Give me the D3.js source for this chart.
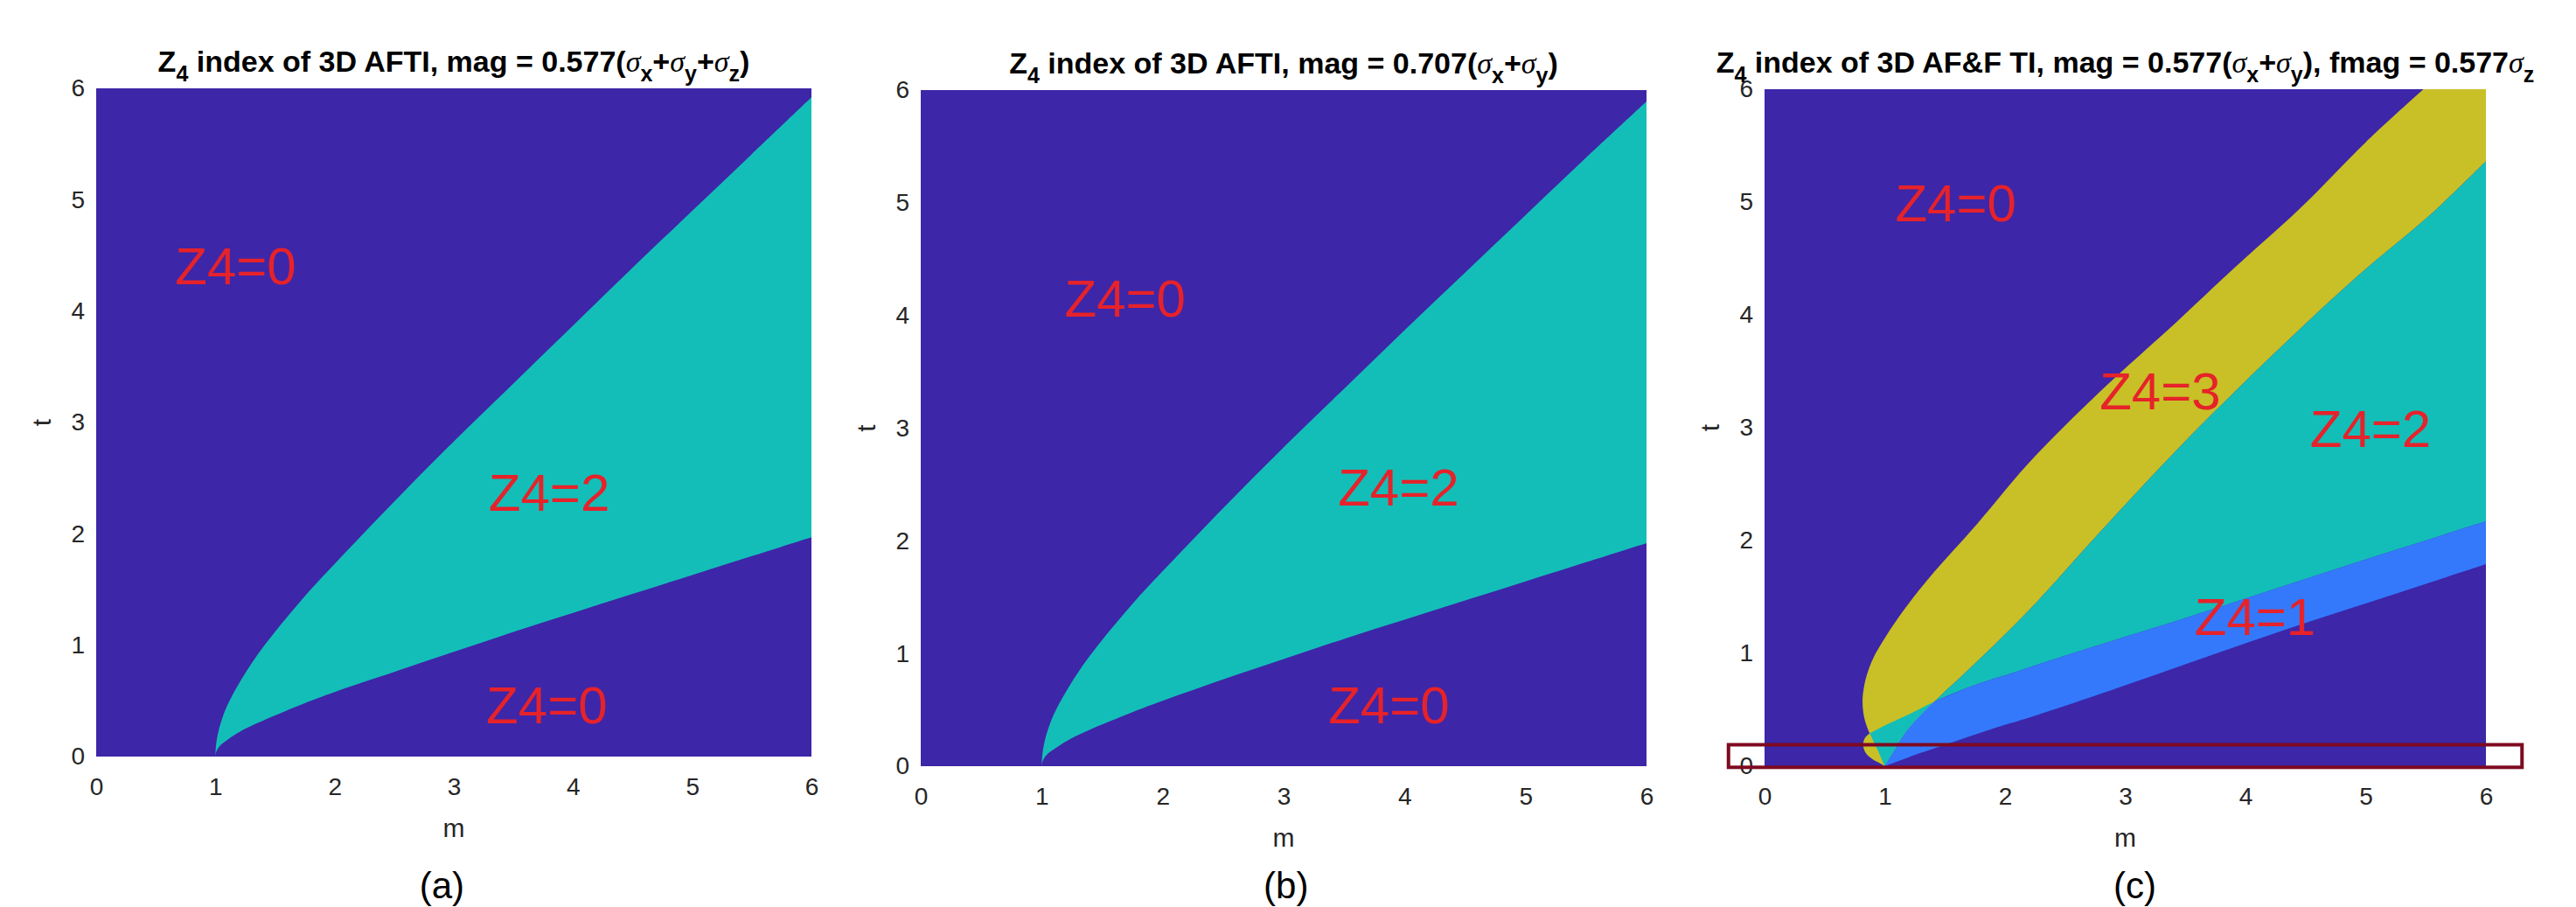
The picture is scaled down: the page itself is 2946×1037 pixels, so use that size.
<!DOCTYPE html>
<html>
<head>
<meta charset="utf-8">
<script src="https://cdn.jsdelivr.net/npm/d3@7"></script>
<style>
  html, body { margin: 0; padding: 0; background: #fff; }
  svg { display: block; font-family: "Liberation Sans", Arial, Helvetica, sans-serif; }
</style>
</head>
<body>
<svg id="chart"></svg>
<script>
const width = 2946;
const height = 1037;

// axes (same for all three panels)
const mDomain = [0, 6];
const tDomain = [0, 6];
const mTicks = [0, 1, 2, 3, 4, 5, 6];
const tTicks = [0, 1, 2, 3, 4, 5, 6];

// phase boundaries, as [m, t]
// (a) mag along x+y+z
const aUpper = [[1, 0], [1.005, 0.1], [1.02, 0.2], [1.05, 0.32], [1.1, 0.46], [1.2, 0.66], [1.35, 0.91], [1.5, 1.12], [1.75, 1.44], [2, 1.73], [2.5, 2.29], [3, 2.83], [3.5, 3.35], [4, 3.87], [4.5, 4.39], [5, 4.9], [5.5, 5.41], [6, 5.92]];
const aLower = [[1, 0], [1.005, 0.035], [1.02, 0.07], [1.05, 0.11], [1.1, 0.15], [1.2, 0.22], [1.35, 0.3], [1.5, 0.37], [1.75, 0.48], [2, 0.58], [2.5, 0.76], [3, 0.94], [3.5, 1.12], [4, 1.29], [4.5, 1.46], [5, 1.63], [5.5, 1.8], [6, 1.97]];

// (b) mag along x+y
const bUpper = [[1, 0], [1.005, 0.1], [1.02, 0.2], [1.05, 0.32], [1.1, 0.46], [1.2, 0.66], [1.35, 0.91], [1.5, 1.12], [1.75, 1.44], [2, 1.73], [2.5, 2.29], [3, 2.83], [3.5, 3.35], [4, 3.87], [4.5, 4.38], [5, 4.89], [5.5, 5.4], [6, 5.9]];
const bLower = [[1, 0], [1.005, 0.035], [1.02, 0.07], [1.05, 0.11], [1.1, 0.15], [1.2, 0.22], [1.35, 0.3], [1.5, 0.37], [1.75, 0.48], [2, 0.58], [2.5, 0.77], [3, 0.95], [3.5, 1.13], [4, 1.3], [4.5, 1.47], [5, 1.64], [5.5, 1.81], [6, 1.98]];

// (c) AF & F, four boundaries
const cCross = [1.41, 0.57];
const cTipLeft = [[1, 0], [0.97, 0.02], [0.9, 0.06], [0.84, 0.12], [0.82, 0.19], [0.835, 0.25], [0.875, 0.29]];
const cTipEdge = [[0.875, 0.29], [0.94, 0.145], [1, 0]];
const cYellowLeft = [[0.875, 0.29], [0.855, 0.34], [0.827, 0.44], [0.815, 0.58], [0.83, 0.72], [0.86, 0.84], [0.91, 0.97], [0.98, 1.1], [1.07, 1.25], [1.22, 1.47], [1.41, 1.72], [1.77, 2.15], [2.2, 2.69], [2.79, 3.32], [3.44, 3.95], [3.88, 4.39], [4.45, 4.94], [5, 5.53], [5.48, 6]];
const cYellowRight = [[1, 0], [1.08, 0.14], [1.16, 0.28], [1.28, 0.43], cCross, [1.81, 0.97], [2.26, 1.45], [2.71, 1.98], [3.31, 2.67], [3.76, 3.16], [4.33, 3.75], [4.94, 4.35], [5.55, 4.9], [6, 5.36]];
const cBlueUpper = [[0.875, 0.29], [1, 0.36], [1.2, 0.46], cCross, [1.7, 0.7], [2.1, 0.84], [2.71, 1.05], [3.52, 1.32], [4.33, 1.6], [5.14, 1.88], [6, 2.17]];
const cBlueLower = [[1, 0], [1.2, 0.08], [1.42, 0.16], [1.89, 0.33], [2.2, 0.43], [2.71, 0.61], [3.52, 0.91], [4.33, 1.21], [5.14, 1.49], [6, 1.79]];

// region labels, placed in data units
const aLabels = [["Z4=0", 1.17, 4.41], ["Z4=2", 3.8, 2.38], ["Z4=0", 3.78, 0.47]];
const bLabels = [["Z4=0", 1.69, 4.16], ["Z4=2", 3.95, 2.48], ["Z4=0", 3.87, 0.55]];
const cLabels = [["Z4=0", 1.59, 5.0], ["Z4=3", 3.29, 3.33], ["Z4=2", 5.04, 3.0], ["Z4=1", 4.08, 1.33]];

// highlight box on (c), data units
const cHighlightM = [-0.3, 6.3];
const cHighlightT = [-0.01, 0.19];

// titles: [text, kind]
const titleA = [["Z", ""], ["4", "sub"], [" index of 3D AFTI, mag = 0.577(", ""], ["σ", "sym"], ["x", "sub"], ["+", ""], ["σ", "sym"], ["y", "sub"], ["+", ""], ["σ", "sym"], ["z", "sub"], [")", ""]];
const titleB = [["Z", ""], ["4", "sub"], [" index of 3D AFTI, mag = 0.707(", ""], ["σ", "sym"], ["x", "sub"], ["+", ""], ["σ", "sym"], ["y", "sub"], [")", ""]];
const titleC = [["Z", ""], ["4", "sub"], [" index of 3D AF&F TI, mag = 0.577(", ""], ["σ", "sym"], ["x", "sub"], ["+", ""], ["σ", "sym"], ["y", "sub"], ["), fmag = 0.577", ""], ["σ", "sym"], ["z", "sub"]];

const colors = {z0: "#3d26a8", z1: "#3479fb", z2: "#14beb8", z3: "#c9bf27"};
const labelColor = "#e6222a";
const axisColor = "#262626";

const panels = [
  {key: "a", left: 110, top: 101, right: 928, bottom: 865, title: titleA, caption: "(a)", captionM: 2.9, labels: aLabels},
  {key: "b", left: 1053, top: 103, right: 1883, bottom: 876, title: titleB, caption: "(b)", captionM: 3.02, labels: bLabels},
  {key: "c", left: 2018, top: 102, right: 2843, bottom: 876, title: titleC, caption: "(c)", captionM: 3.08, labels: cLabels}
];

const svg = d3.select("#chart")
  .attr("width", width)
  .attr("height", height)
  .attr("viewBox", [0, 0, width, height]);

const rev = a => a.slice().reverse();

panels.forEach(p => {
  const x = d3.scaleLinear().domain(mDomain).range([p.left, p.right]);
  const y = d3.scaleLinear().domain(tDomain).range([p.bottom, p.top]);
  const curve = d3.line().x(d => x(d[0])).y(d => y(d[1])).curve(d3.curveCatmullRom.alpha(0.5));
  const region = parts => parts.map((pts, i) => {
    const s = curve(pts).replace(/Z$/, "");
    return i ? "L" + s.slice(1) : s;
  }).join("") + "Z";

  const g = svg.append("g").attr("class", "panel-" + p.key);

  g.append("clipPath").attr("id", "clip-" + p.key)
    .append("rect")
    .attr("x", p.left).attr("y", p.top)
    .attr("width", p.right - p.left).attr("height", p.bottom - p.top);

  const plot = g.append("g").attr("clip-path", `url(#clip-${p.key})`);

  plot.append("rect")
    .attr("x", p.left).attr("y", p.top)
    .attr("width", p.right - p.left).attr("height", p.bottom - p.top)
    .attr("fill", colors.z0);

  if (p.key === "a" || p.key === "b") {
    const up = p.key === "a" ? aUpper : bUpper;
    const lo = p.key === "a" ? aLower : bLower;
    plot.append("path").attr("fill", colors.z2).attr("d", region([up, rev(lo)]));
  } else {
    const corner = [[mDomain[1], tDomain[1]]];
    const iC = cBlueUpper.indexOf(cCross);
    const jC = cYellowRight.indexOf(cCross);
    plot.append("path").attr("fill", colors.z3)
      .attr("d", region([cTipLeft, cYellowLeft, corner, rev(cYellowRight)]));
    plot.append("path").attr("fill", colors.z2)
      .attr("d", region([cYellowRight, rev(cBlueUpper), cTipEdge]));
    plot.append("path").attr("fill", colors.z1)
      .attr("d", region([cBlueLower, rev(cBlueUpper.slice(iC)), rev(cYellowRight.slice(0, jC + 1))]));
  }

  // region labels
  plot.selectAll("text.zlabel")
    .data(p.labels)
    .join("text")
    .attr("class", "zlabel")
    .attr("x", d => x(d[1]))
    .attr("y", d => y(d[2]))
    .attr("dy", "0.36em")
    .attr("text-anchor", "middle")
    .attr("fill", labelColor)
    .style("font-size", "60px")
    .text(d => d[0]);

  // axes
  g.append("g")
    .attr("transform", `translate(0,${p.bottom})`)
    .call(d3.axisBottom(x).tickValues(mTicks).tickSize(0).tickPadding(24).tickFormat(d3.format("d")))
    .call(a => a.select(".domain").remove())
    .call(a => a.selectAll("text").attr("fill", axisColor).style("font-size", "28px").style("font-family", null));

  g.append("g")
    .attr("transform", `translate(${p.left},0)`)
    .call(d3.axisLeft(y).tickValues(tTicks).tickSize(0).tickPadding(13).tickFormat(d3.format("d")))
    .call(a => a.select(".domain").remove())
    .call(a => a.selectAll("text").attr("fill", axisColor).style("font-size", "28px").style("font-family", null));

  const midX = (p.left + p.right) / 2;
  const midY = (p.top + p.bottom) / 2;

  g.append("text")
    .attr("x", midX).attr("y", p.bottom + 92)
    .attr("text-anchor", "middle")
    .attr("fill", axisColor)
    .style("font-size", "30px")
    .text("m");

  g.append("text")
    .attr("transform", `translate(${p.left - 52},${midY}) rotate(-90)`)
    .attr("text-anchor", "middle")
    .attr("fill", axisColor)
    .style("font-size", "30px")
    .text("t");

  // title with subscripts (relative dy keeps a single text chunk)
  const title = g.append("text")
    .attr("x", midX).attr("y", p.top - 19)
    .attr("text-anchor", "middle")
    .attr("fill", "#000")
    .style("font-size", "34px")
    .style("font-weight", "bold");
  let shift = 0;
  p.title.forEach(([s, kind]) => {
    const target = kind === "sub" ? 11 : 0;
    const ts = title.append("tspan").attr("dy", target - shift).text(s);
    shift = target;
    if (kind === "sub") ts.style("font-size", "25px");
    if (kind === "sym") {
      ts.style("font-family", "'Liberation Serif', 'DejaVu Serif', serif")
        .style("font-style", "italic")
        .style("font-weight", "normal");
    }
  });

  g.append("text")
    .attr("x", x(p.captionM)).attr("y", 1012)
    .attr("dy", "0.35em")
    .attr("text-anchor", "middle")
    .attr("fill", "#000")
    .style("font-size", "42px")
    .text(p.caption);

  if (p.key === "c") {
    g.append("rect")
      .attr("x", x(cHighlightM[0]))
      .attr("y", y(cHighlightT[1]))
      .attr("width", x(cHighlightM[1]) - x(cHighlightM[0]))
      .attr("height", y(cHighlightT[0]) - y(cHighlightT[1]))
      .attr("fill", "none")
      .attr("stroke", "#7e0a20")
      .attr("stroke-width", 4);
  }
});
</script>
</body>
</html>
